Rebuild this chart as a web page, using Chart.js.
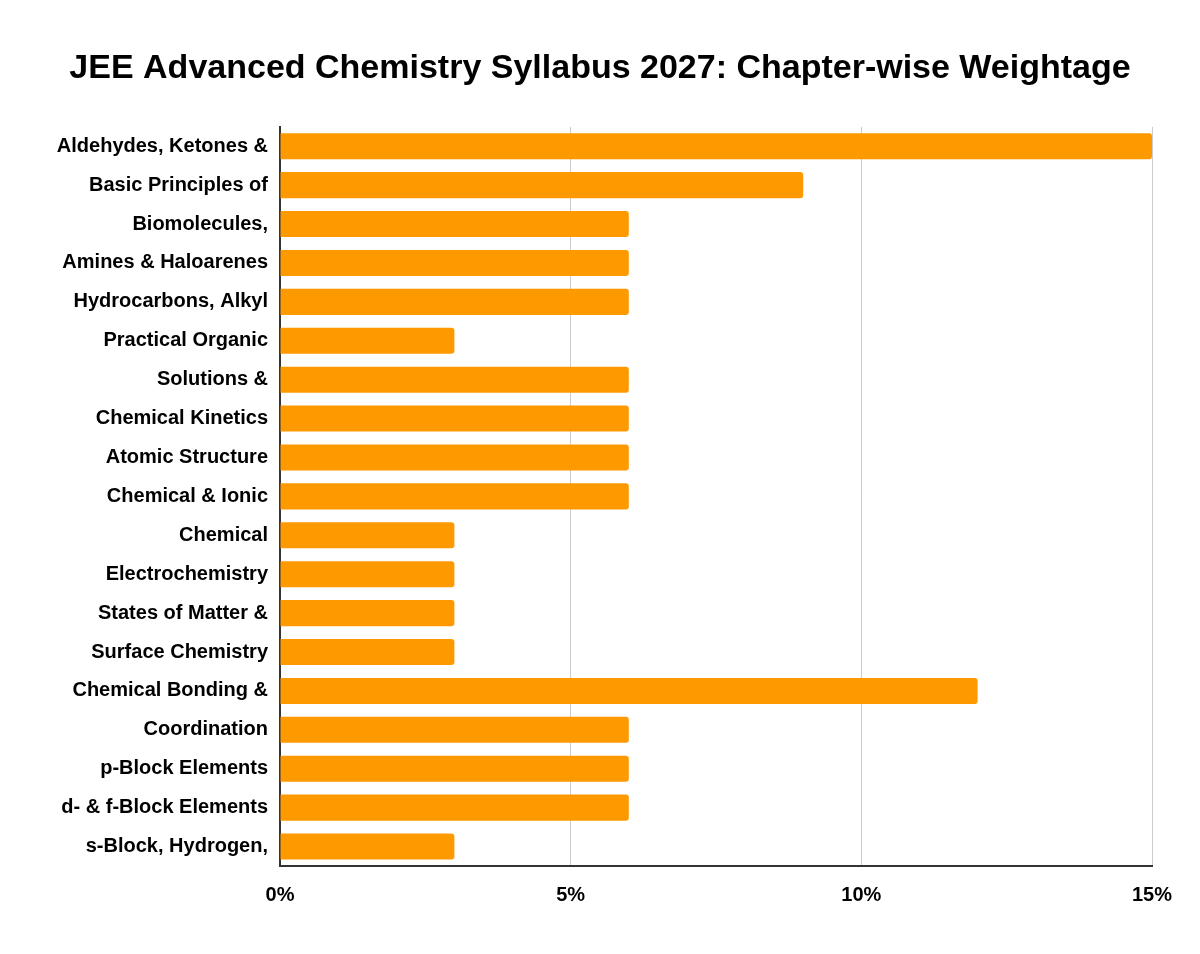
<!DOCTYPE html>
<html>
<head>
<meta charset="utf-8">
<script src="https://cdn.jsdelivr.net/npm/chart.js@4"></script>
<style>
  html, body { margin: 0; padding: 0; background: #fff; }
  #wrap { width: 1200px; height: 954px; }
</style>
</head>
<body>
<div id="wrap"><canvas id="myChart"></canvas></div>
<script>
var chapters = [
    "Aldehydes, Ketones &",
    "Basic Principles of",
    "Biomolecules,",
    "Amines & Haloarenes",
    "Hydrocarbons, Alkyl",
    "Practical Organic",
    "Solutions &",
    "Chemical Kinetics",
    "Atomic Structure",
    "Chemical & Ionic",
    "Chemical",
    "Electrochemistry",
    "States of Matter &",
    "Surface Chemistry",
    "Chemical Bonding &",
    "Coordination",
    "p-Block Elements",
    "d- & f-Block Elements",
    "s-Block, Hydrogen,"
];
var weightage = [15, 9, 6, 6, 6, 3, 6, 6, 6, 6, 3, 3, 3, 3, 12, 6, 6, 6, 3];
var xTicks = [0, 5, 10, 15];

var font = "'Liberation Sans', Arial, sans-serif";

var ctx = document.getElementById("myChart");
var myChart = new Chart(ctx, {
    type: 'bar',
    data: {
        labels: chapters,
        datasets: [{
            data: weightage,
            backgroundColor: "#ff9900",
            borderRadius: 3,
            borderSkipped: 'start',
            barPercentage: 0.67,
            categoryPercentage: 1
        }]
    },
    options: {
        indexAxis: 'y',
        responsive: true,
        maintainAspectRatio: false,
        animation: false,
        layout: { padding: 0 },
        plugins: {
            legend: { display: false },
            tooltip: { enabled: false },
            title: {
                display: true,
                text: "JEE Advanced Chemistry Syllabus 2027: Chapter-wise Weightage",
                color: "#000",
                font: { family: font, size: 34, weight: 'bold' },
                padding: { top: 48, bottom: 38 }
            }
        },
        scales: {
            x: {
                min: 0,
                max: 15,
                afterBuildTicks: function (scale) {
                    scale.ticks = xTicks.map(function (v) { return { value: v }; });
                },
                afterFit: function (scale) { scale.height = 88; },
                grid: { color: "#cccccc", lineWidth: 1, drawTicks: false },
                border: { display: true, color: "#333333", width: 2 },
                ticks: {
                    color: "#000",
                    padding: 17,
                    font: { family: font, size: 20, weight: 'bold' },
                    callback: function (v) { return v + "%"; }
                }
            },
            y: {
                afterFit: function (scale) { scale.width = 280; },
                grid: { display: false, drawTicks: false },
                border: { display: true, color: "#333333", width: 2 },
                ticks: {
                    color: "#000",
                    padding: 12,
                    autoSkip: false,
                    font: { family: font, size: 20, weight: 'bold' }
                }
            },
            yRight: {
                type: 'category',
                position: 'right',
                afterFit: function (scale) { scale.width = 48; },
                grid: { display: false, drawTicks: false },
                border: { display: false },
                ticks: { display: false }
            }
        }
    }
});
</script>
</body>
</html>
